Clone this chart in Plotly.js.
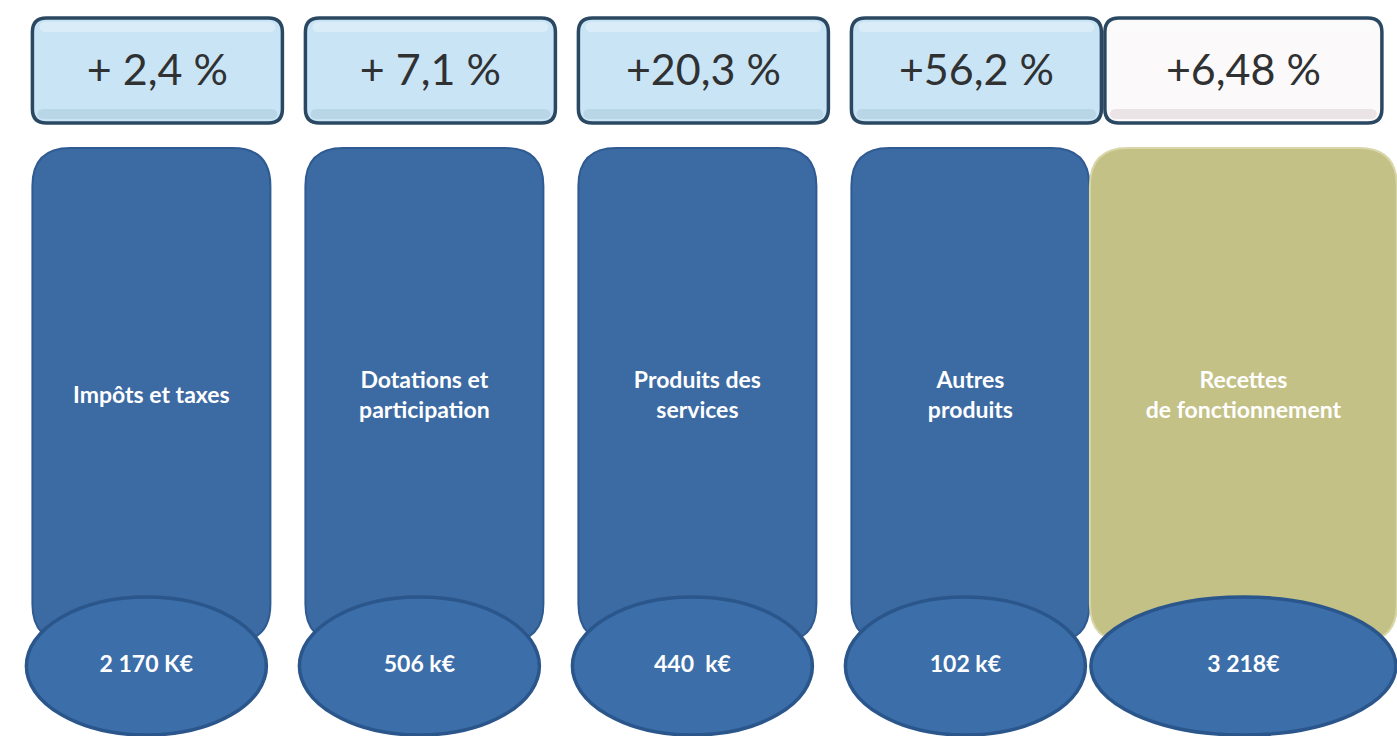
<!DOCTYPE html>
<html>
<head>
<meta charset="utf-8">
<script src="https://cdn.plot.ly/plotly-3.0.1.min.js"></script>
<style>html,body{margin:0;padding:0;background:#fff;}#chart{width:1397px;height:736px;}</style>
</head>
<body>
<div id="chart"></div>
<script>
// ---- data ----
const categories = ["Impôts et taxes", "Dotations et<br>participation", "Produits des<br>services", "Autres<br>produits", "Recettes<br>de fonctionnement"];
const changes = ["+ 2,4 %", "+ 7,1 %", "+20,3 %", "+56,2 %", "+6,48 %"];
const amounts = ["2 170 K€", "506 k€", "440  k€", "102 k€", "3 218€"];

// ---- layout constants (pixel-like units) ----
const PX = 1 / 273;            // x units per pixel
const idx = categories.map((_, i) => i);
const last = categories.length - 1;
const ROW = {pctTop: 18, pctBot: 123, pctMid: 74, barTop: 148, barBot: 642, label: 397, ellTop: 597, ellBot: 735, value: 666};

function rr(cx, wpx, y0, y1, r) {
  const x0 = cx - wpx / 2 * PX, x1 = cx + wpx / 2 * PX, rx = r * PX;
  return `M ${x0 + rx},${y0} L ${x1 - rx},${y0} Q ${x1},${y0} ${x1},${y0 + r} ` +
         `L ${x1},${y1 - r} Q ${x1},${y1} ${x1 - rx},${y1} L ${x0 + rx},${y1} ` +
         `Q ${x0},${y1} ${x0},${y1 - r} L ${x0},${y0 + r} Q ${x0},${y0} ${x0 + rx},${y0} Z`;
}

const shapes = [];
idx.forEach(i => {
  const tot = i === last;
  // percentage box
  const pw = tot ? 277 : 250;
  const pcx = i + (tot ? 0 : 6) * PX;
  shapes.push({type: 'path', xref: 'x', yref: 'y', layer: 'below', path: rr(pcx, pw, ROW.pctTop, ROW.pctBot, 14),
    fillcolor: tot ? '#fbf9fa' : '#c9e4f5', line: {color: '#2b4862', width: 3.5}});
  // soft highlight at top of percentage box
  shapes.push({type: 'path', xref: 'x', yref: 'y', layer: 'below', path: rr(pcx, pw - 14, ROW.pctTop + 4, ROW.pctTop + 14, 6),
    fillcolor: 'rgba(255,255,255,0.3)', line: {width: 0}});
  // darker bottom band
  shapes.push({type: 'path', xref: 'x', yref: 'y', layer: 'below', path: rr(pcx, pw - 10, ROW.pctBot - 14, ROW.pctBot - 4, 6),
    fillcolor: tot ? 'rgba(200,180,190,0.3)' : 'rgba(140,170,190,0.25)', line: {width: 0}});
  // tall rounded bar
  const bw = tot ? 307 : 238;
  shapes.push({type: 'path', xref: 'x', yref: 'y', layer: 'below', path: rr(i, bw, ROW.barTop, ROW.barBot, 38),
    fillcolor: tot ? '#c4c187' : '#3c6aa3', line: {color: tot ? '#d8d6a8' : '#2f5b92', width: 2}});
  // ellipse
  const ew = tot ? 305 : 240;
  const ecx = i - (tot ? 0 : 5) * PX;
  shapes.push({type: 'circle', xref: 'x', yref: 'y', layer: 'below',
    x0: ecx - ew / 2 * PX, x1: ecx + ew / 2 * PX, y0: ROW.ellTop, y1: ROW.ellBot,
    fillcolor: '#3c6ea9', line: {color: '#2a568b', width: 3.5}});
});

const font = "Lato, 'Open Sans', sans-serif";
const traces = [
  {type: 'scatter', mode: 'text', x: idx.map(i => i + (i === last ? 0 : 6) * PX), y: idx.map(() => ROW.pctMid), text: changes,
   textfont: {family: font, size: 43, color: '#2f3133'}, hoverinfo: 'skip', showlegend: false},
  {type: 'scatter', mode: 'text', x: idx, y: idx.map(() => ROW.label), text: categories,
   textfont: {family: font, size: 23, color: '#ffffff', weight: 'bold'}, hoverinfo: 'skip', showlegend: false},
  {type: 'scatter', mode: 'text', x: idx.map(i => i - (i === last ? 0 : 5) * PX), y: idx.map(() => ROW.value), text: amounts,
   textfont: {family: font, size: 23, color: '#ffffff', weight: 'bold'}, hoverinfo: 'skip', showlegend: false}
];

const layout = {
  width: 1397, height: 736,
  margin: {l: 0, r: 0, t: 0, b: 0},
  paper_bgcolor: '#ffffff', plot_bgcolor: '#ffffff',
  xaxis: {range: [-151.4 * PX, (1397 - 151.4) * PX], visible: false, fixedrange: true},
  yaxis: {range: [736, 0], visible: false, fixedrange: true},
  shapes: shapes,
  showlegend: false
};

Plotly.newPlot('chart', traces, layout, {displayModeBar: false, staticPlot: true});
</script>
</body>
</html>
